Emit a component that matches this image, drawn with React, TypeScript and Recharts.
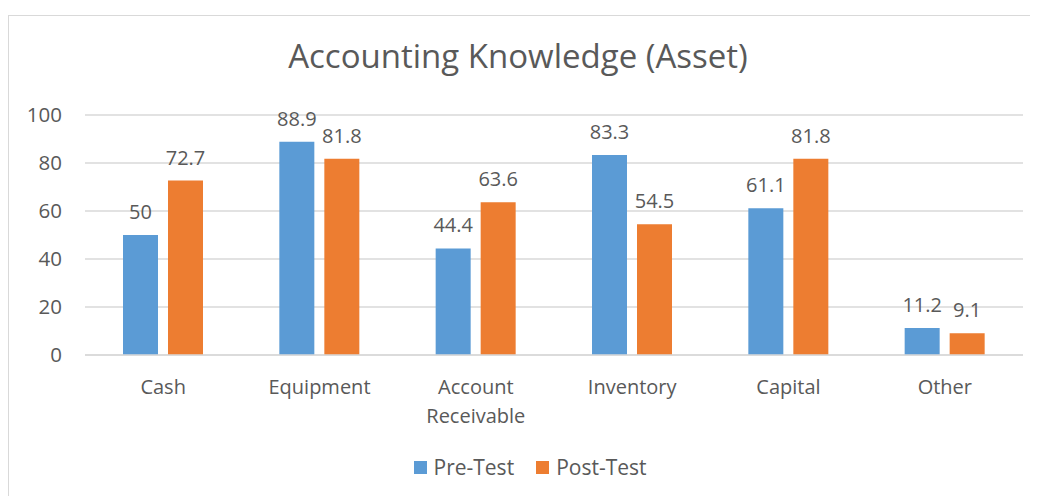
import { BarChart, Bar, XAxis, YAxis, CartesianGrid, LabelList } from "recharts";

const BLUE = "#5B9BD5";
const ORANGE = "#ED7D31";
const TEXT = "#595959";
const GRID = "#D9D9D9";
const FONT = "'Open Sans', sans-serif";

const categories = ["Cash", "Equipment", "Account Receivable", "Inventory", "Capital", "Other"];
const preTest = [50, 88.9, 44.4, 83.3, 61.1, 11.2];
const postTest = [72.7, 81.8, 63.6, 54.5, 81.8, 9.1];
const yTicks = [0, 20, 40, 60, 80, 100];

const data = categories.map((name, i) => ({ name, pre: preTest[i], post: postTest[i] }));

function CategoryTick({ x, y, payload }: any) {
  const words = String(payload.value).split(" ");
  return (
    <text x={x} y={y} textAnchor="middle" fill={TEXT} fontSize={20} fontFamily={FONT}>
      {words.map((w, i) => (
        <tspan key={i} x={x} dy={i === 0 ? "0.71em" : 29}>
          {w}
        </tspan>
      ))}
    </text>
  );
}

export default function App() {
  return (
    <div
      style={{
        position: "relative",
        marginTop: 7,
        width: 1022,
        height: 480,
        overflow: "hidden",
        borderTop: `1px solid ${GRID}`,
        borderLeft: `1px solid ${GRID}`,
        background: "#fff",
        fontFamily: FONT,
      }}
    >
      <style>{`html,body{overflow:hidden}`}</style>
      <div
        style={{
          position: "absolute",
          top: 17,
          left: 0,
          width: 1018,
          textAlign: "center",
          fontSize: 33,
          color: TEXT,
        }}
      >
        Accounting Knowledge (Asset)
      </div>
      <BarChart
        width={1022}
        height={480}
        data={data}
        margin={{ top: 99, right: 8, left: 0, bottom: 71 }}
        barGap={10}
        barSize={35}
      >
        <CartesianGrid stroke={GRID} strokeWidth={1.5} vertical={false} />
        <XAxis
          dataKey="name"
          axisLine={{ stroke: GRID, strokeWidth: 1.5 }}
          tickLine={false}
          tickMargin={19}
          height={70}
          interval={0}
          tick={<CategoryTick />}
        />
        <YAxis
          domain={[0, 100]}
          ticks={yTicks}
          width={76}
          axisLine={false}
          tickLine={false}
          tickMargin={17}
          tick={{ fill: TEXT, fontSize: 20.5, fontFamily: FONT }}
        />
        <Bar dataKey="pre" fill={BLUE} isAnimationActive={false}>
          <LabelList dataKey="pre" position="top" offset={16} fill={TEXT} fontSize={20} fontFamily={FONT} />
        </Bar>
        <Bar dataKey="post" fill={ORANGE} isAnimationActive={false}>
          <LabelList dataKey="post" position="top" offset={16} fill={TEXT} fontSize={20} fontFamily={FONT} />
        </Bar>
      </BarChart>
      <div
        style={{
          position: "absolute",
          top: 437,
          left: 0,
          width: 1032,
          display: "flex",
          justifyContent: "center",
          gap: 22,
          fontSize: 21,
          color: TEXT,
          paddingLeft: 10,
          boxSizing: "border-box",
        }}
      >
        {[
          { name: "Pre-Test", color: BLUE },
          { name: "Post-Test", color: ORANGE },
        ].map((it) => (
          <div key={it.name} style={{ display: "flex", alignItems: "center", gap: 7 }}>
            <span style={{ width: 13, height: 13, background: it.color, display: "inline-block" }} />
            <span>{it.name}</span>
          </div>
        ))}
      </div>
    </div>
  );
}
